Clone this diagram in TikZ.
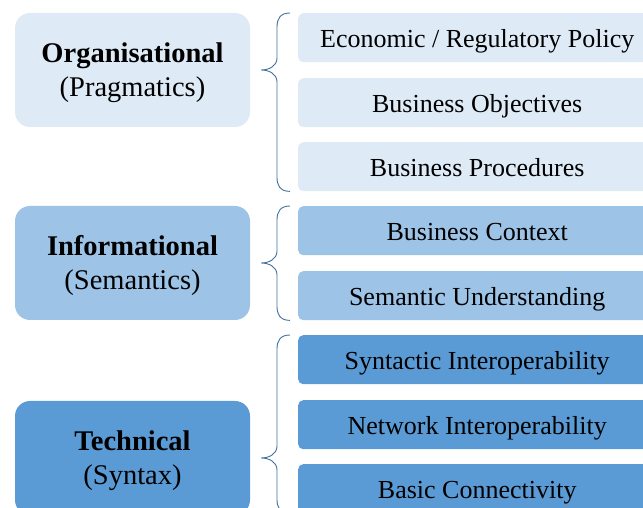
\documentclass[tikz,border=0pt]{standalone}
\usepackage{fontspec}
\setmainfont{Liberation Serif}
\usetikzlibrary{calc}

\definecolor{bleuclair}{HTML}{DEEBF7}
\definecolor{bleumoyen}{HTML}{9DC3E6}
\definecolor{bleufonce}{HTML}{5B9BD5}
\definecolor{trait}{HTML}{41719C}

\tikzset{
  niveau/.style={rounded corners=15pt, minimum width=235pt, minimum height=114pt,
    align=center, inner sep=0pt, text height=54pt, text depth=0pt,
    font=\fontsize{28.5}{34}\selectfont},
  item/.style={rounded corners=5pt, minimum width=358pt, minimum height=49pt,
    anchor=north west, inner sep=0pt, text height=19pt, text depth=0pt,
    font=\fontsize{26}{30}\selectfont},
  accolade/.style={draw=trait, line width=0.9pt}
}

% #1 haut, #2 pointe, #3 bas
\newcommand{\accolade}[3]{%
  \draw[accolade] (#1) .. controls +(-10,0) and +(0,8) .. ($(#1)+(-13,-14)$)
    -- ($(#1 |- #2)+(-13,12)$) .. controls +(0,-8) and +(8,0) .. (#2)
    .. controls +(8,0) and +(0,8) .. ($(#1 |- #2)+(-13,-12)$)
    -- ($(#3)+(-13,14)$) .. controls +(0,-8) and +(-10,0) .. (#3);
}

\begin{document}
\begin{tikzpicture}[x=1pt,y=1pt]
  \clip (0,0) rectangle (643,508);
  % Niveaux
  \node[niveau, fill=bleuclair] (org) at (132.5,438) {\textbf{Organisational}\\(Pragmatics)};
  \node[niveau, fill=bleumoyen] (info) at (132.5,245) {\textbf{Informational}\\(Semantics)};
  \node[niveau, fill=bleufonce] (tech) at (132.5,50) {\textbf{Technical}\\(Syntax)};
  % Elements
  \node[item, fill=bleuclair] (eco) at (298,495) {Economic / Regulatory Policy};
  \node[item, fill=bleuclair] (objectifs) at (298,430) {Business Objectives};
  \node[item, fill=bleuclair] (procedures) at (298,366) {Business Procedures};
  \node[item, fill=bleumoyen] (contexte) at (298,302) {Business Context};
  \node[item, fill=bleumoyen] (semantique) at (298,237) {Semantic Understanding};
  \node[item, fill=bleufonce] (syntaxique) at (298,173) {Syntactic Interoperability};
  \node[item, fill=bleufonce] (reseau) at (298,108) {Network Interoperability};
  \node[item, fill=bleufonce] (connectivite) at (298,44) {Basic Connectivity};
  % Accolades
  \coordinate (h1) at ([xshift=-8pt]eco.north west);
  \coordinate (p1) at ([xshift=11pt]org.east);
  \coordinate (b1) at ([xshift=-8pt]procedures.south west);
  \accolade{h1}{p1}{b1}
  \coordinate (h2) at ([xshift=-8pt]contexte.north west);
  \coordinate (p2) at ([xshift=11pt]info.east);
  \coordinate (b2) at ([xshift=-8pt]semantique.south west);
  \accolade{h2}{p2}{b2}
  \coordinate (h3) at ([xshift=-8pt]syntaxique.north west);
  \coordinate (p3) at ([xshift=11pt]tech.east);
  \coordinate (b3) at ([xshift=-8pt]connectivite.south west);
  \accolade{h3}{p3}{b3}
\end{tikzpicture}
\end{document}
